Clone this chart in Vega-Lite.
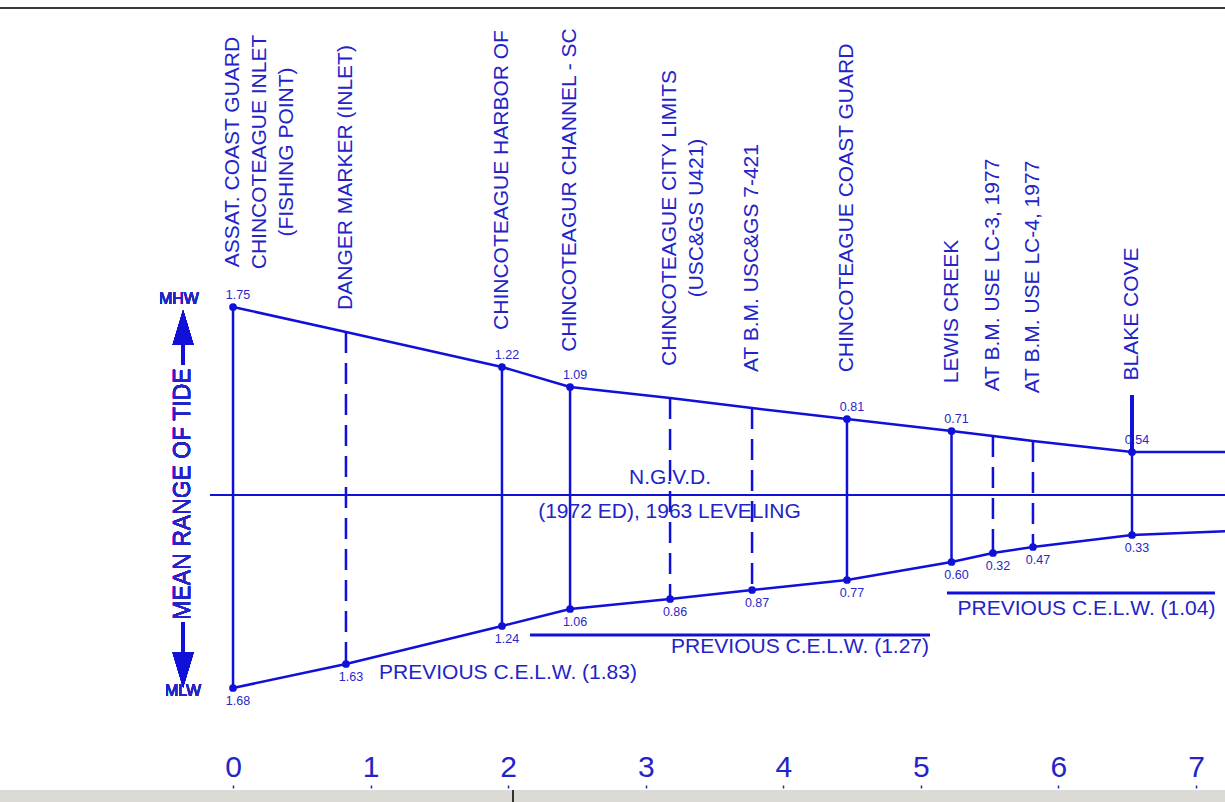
{
  "$schema": "https://vega.github.io/schema/vega-lite/v6.json",
  "width": 1225,
  "height": 802,
  "autosize": {"type": "none"},
  "padding": 0,
  "background": "white",
  "view": {"stroke": null},
  "config": {"text": {"font": "Liberation Sans"}},
  "datasets": {
    "stations": [
      {"name": ["ASSAT. COAST GUARD", "CHINCOTEAGUE INLET", "(FISHING POINT)"], "name_y": 3.43, "mile": 0, "hw": 1.88, "lw": -1.93, "hw_label": "1.75", "lw_label": "1.68", "kind": "solid"},
      {"name": ["DANGER MARKER (INLET)"], "name_y": 3.175, "mile": 0.821, "hw": 1.63, "lw": -1.69, "hw_label": null, "lw_label": "1.63", "kind": "dashed"},
      {"name": ["CHINCOTEAGUE HARBOR OF"], "name_y": 3.15, "mile": 1.955, "hw": 1.28, "lw": -1.31, "hw_label": "1.22", "lw_label": "1.24", "kind": "solid"},
      {"name": ["CHINCOTEAGUR CHANNEL - SC"], "name_y": 3.05, "mile": 2.45, "hw": 1.08, "lw": -1.14, "hw_label": "1.09", "lw_label": "1.06", "kind": "solid"},
      {"name": ["CHINCOTEAGUE CITY LIMITS", "(USC&GS U421)"], "name_y": 2.77, "mile": 3.177, "hw": 0.97, "lw": -1.04, "hw_label": null, "lw_label": "0.86", "kind": "dashed"},
      {"name": ["AT B.M. USC&GS 7-421"], "name_y": 2.37, "mile": 3.773, "hw": 0.87, "lw": -0.95, "hw_label": null, "lw_label": "0.87", "kind": "dashed"},
      {"name": ["CHINCOTEAGUE COAST GUARD"], "name_y": 2.87, "mile": 4.463, "hw": 0.76, "lw": -0.85, "hw_label": "0.81", "lw_label": "0.77", "kind": "solid"},
      {"name": ["LEWIS CREEK"], "name_y": 1.835, "mile": 5.223, "hw": 0.64, "lw": -0.67, "hw_label": "0.71", "lw_label": "0.60", "kind": "solid"},
      {"name": ["AT B.M. USE LC-3, 1977"], "name_y": 2.2, "mile": 5.524, "hw": 0.59, "lw": -0.58, "hw_label": null, "lw_label": "0.32", "kind": "dashed"},
      {"name": ["AT B.M. USE LC-4, 1977"], "name_y": 2.18, "mile": 5.815, "hw": 0.54, "lw": -0.52, "hw_label": null, "lw_label": "0.47", "kind": "dashed"},
      {"name": ["BLAKE COVE"], "name_y": 1.81, "mile": 6.535, "hw": 0.43, "lw": -0.4, "hw_label": "0.54", "lw_label": "0.33", "kind": "solid"},
      {"name": null, "name_y": null, "mile": 7.25, "hw": 0.43, "lw": -0.36, "hw_label": null, "lw_label": null, "kind": "edge"}
    ],
    "notes": [
      {"text": "N.G.V.D.", "mile": 3.177, "y": 0.17},
      {"text": "(1972 ED), 1963 LEVELING", "mile": 3.173, "y": -0.17},
      {"text": "PREVIOUS C.E.L.W. (1.83)", "mile": 1.999, "y": -1.78},
      {"text": "PREVIOUS C.E.L.W. (1.27)", "mile": 4.122, "y": -1.52},
      {"text": "PREVIOUS C.E.L.W. (1.04)", "mile": 6.204, "y": -1.14}
    ],
    "bars": [
      {"from": 2.159, "to": 5.067, "y": -1.4},
      {"from": 5.19, "to": 7.138, "y": -0.98}
    ]
  },
  "data": {"name": "stations"},
  "layer": [
    {
      "mark": {"type": "rect", "color": "#dcdad5"},
      "encoding": {
        "x": {"datum": -1.8, "type": "quantitative", "scale": {"domain": [-1.694, 7.211], "nice": false, "zero": false},
          "axis": {"orient": "top", "offset": -788, "values": [0, 1, 2, 3, 4, 5, 6, 7], "format": "d", "domain": false, "grid": false, "ticks": true, "tickSize": 3, "tickWidth": 1.5, "tickColor": "#2323c8", "labelFont": "Liberation Sans Narrow, Liberation Sans", "labelFontSize": 30, "labelColor": "#2323c8", "labelPadding": 3, "labelFlush": false, "title": null}},
        "x2": {"datum": 7.4},
        "y": {"datum": -2.95, "type": "quantitative", "scale": {"domain": [-3.07, 4.95], "nice": false, "zero": false}, "axis": null},
        "y2": {"datum": -3.2}
      }
    },
    {
      "mark": {"type": "rule", "color": "#333333", "strokeWidth": 1.5},
      "encoding": {"x": {"datum": 2.036, "type": "quantitative"}, "y": {"datum": -2.95, "type": "quantitative"}, "y2": {"datum": -3.2}}
    },
    {
      "mark": {"type": "rule", "color": "#3a3a3a", "strokeWidth": 2},
      "encoding": {"x": {"datum": -1.8, "type": "quantitative"}, "x2": {"datum": 7.4}, "y": {"datum": 4.87, "type": "quantitative"}}
    },
    {
      "mark": {"type": "rule", "color": "#1010d8", "strokeWidth": 1.5},
      "encoding": {"x": {"datum": -0.167, "type": "quantitative"}, "x2": {"datum": 7.4}, "y": {"datum": 0, "type": "quantitative"}}
    },
    {
      "transform": [{"filter": "datum.kind === 'solid'"}],
      "mark": {"type": "rule", "color": "#1010d8", "strokeWidth": 2.5},
      "encoding": {"x": {"field": "mile", "type": "quantitative"}, "y": {"field": "hw", "type": "quantitative"}, "y2": {"field": "lw"}}
    },
    {
      "transform": [{"filter": "datum.kind === 'dashed'"}],
      "mark": {"type": "rule", "color": "#1010d8", "strokeWidth": 2.5, "strokeDash": [21, 10]},
      "encoding": {"x": {"field": "mile", "type": "quantitative"}, "y": {"field": "hw", "type": "quantitative"}, "y2": {"field": "lw"}}
    },
    {
      "mark": {"type": "rule", "color": "#1010d8", "strokeWidth": 2.5},
      "encoding": {"x": {"datum": 6.535, "type": "quantitative"}, "y": {"datum": 1.0, "type": "quantitative"}, "y2": {"datum": 0.43}}
    },
    {
      "mark": {"type": "line", "color": "#1010d8", "strokeWidth": 2.5},
      "encoding": {"x": {"field": "mile", "type": "quantitative"}, "y": {"field": "hw", "type": "quantitative"}}
    },
    {
      "mark": {"type": "line", "color": "#1010d8", "strokeWidth": 2.5},
      "encoding": {"x": {"field": "mile", "type": "quantitative"}, "y": {"field": "lw", "type": "quantitative"}}
    },
    {
      "transform": [{"filter": "datum.kind === 'solid'"}],
      "mark": {"type": "point", "filled": true, "color": "#1010d8", "size": 60, "opacity": 1},
      "encoding": {"x": {"field": "mile", "type": "quantitative"}, "y": {"field": "hw", "type": "quantitative"}}
    },
    {
      "transform": [{"filter": "datum.kind !== 'edge'"}],
      "mark": {"type": "point", "filled": true, "color": "#1010d8", "size": 60, "opacity": 1},
      "encoding": {"x": {"field": "mile", "type": "quantitative"}, "y": {"field": "lw", "type": "quantitative"}}
    },
    {
      "transform": [{"filter": "datum.hw_label != null"}],
      "mark": {"type": "text", "color": "#2828c8", "fontSize": 12.5, "dx": 5, "dy": -12, "align": "center", "baseline": "middle"},
      "encoding": {"x": {"field": "mile", "type": "quantitative"}, "y": {"field": "hw", "type": "quantitative"}, "text": {"field": "hw_label"}}
    },
    {
      "transform": [{"filter": "datum.lw_label != null"}],
      "mark": {"type": "text", "color": "#2828c8", "fontSize": 12.5, "dx": 5, "dy": 13, "align": "center", "baseline": "middle"},
      "encoding": {"x": {"field": "mile", "type": "quantitative"}, "y": {"field": "lw", "type": "quantitative"}, "text": {"field": "lw_label"}}
    },
    {
      "transform": [{"filter": "datum.name != null"}],
      "mark": {"type": "text", "color": "#2323c8", "fontSize": 21, "angle": 270, "align": "center", "baseline": "middle", "lineHeight": 27},
      "encoding": {"x": {"field": "mile", "type": "quantitative"}, "y": {"field": "name_y", "type": "quantitative"}, "text": {"field": "name"}}
    },
    {
      "data": {"name": "notes"},
      "mark": {"type": "text", "color": "#2323c8", "fontSize": 21, "align": "center", "baseline": "middle"},
      "encoding": {"x": {"field": "mile", "type": "quantitative"}, "y": {"field": "y", "type": "quantitative"}, "text": {"field": "text"}}
    },
    {
      "data": {"name": "bars"},
      "mark": {"type": "rule", "color": "#1010d8", "strokeWidth": 3},
      "encoding": {"x": {"field": "from", "type": "quantitative"}, "x2": {"field": "to"}, "y": {"field": "y", "type": "quantitative"}}
    },
    {
      "mark": {"type": "text", "color": "#2323c8", "fontSize": 16, "align": "center", "baseline": "middle", "text": "MHW"},
      "encoding": {"x": {"datum": -0.393, "type": "quantitative"}, "y": {"datum": 1.96, "type": "quantitative"}}
    },
    {
      "mark": {"type": "text", "color": "#2323c8", "fontSize": 16, "align": "center", "baseline": "middle", "text": "MLW"},
      "encoding": {"x": {"datum": -0.363, "type": "quantitative"}, "y": {"datum": -1.96, "type": "quantitative"}}
    },
    {
      "mark": {"type": "text", "color": "#2323c8", "fontSize": 23, "angle": 270, "align": "center", "baseline": "middle", "text": "MEAN RANGE OF TIDE"},
      "encoding": {"x": {"datum": -0.363, "type": "quantitative"}, "y": {"datum": 0.01, "type": "quantitative"}}
    },
    {
      "mark": {"type": "rule", "color": "#1010d8", "strokeWidth": 3},
      "encoding": {"x": {"datum": -0.363, "type": "quantitative"}, "y": {"datum": 1.52, "type": "quantitative"}, "y2": {"datum": 1.3}}
    },
    {
      "mark": {"type": "rule", "color": "#1010d8", "strokeWidth": 3},
      "encoding": {"x": {"datum": -0.363, "type": "quantitative"}, "y": {"datum": -1.27, "type": "quantitative"}, "y2": {"datum": -1.58}}
    },
    {
      "mark": {"type": "point", "filled": true, "color": "#1010d8", "opacity": 1, "size": 1225, "shape": "M-0.6,1L0.6,1L0,-1Z"},
      "encoding": {"x": {"datum": -0.363, "type": "quantitative"}, "y": {"datum": 1.675, "type": "quantitative"}}
    },
    {
      "mark": {"type": "point", "filled": true, "color": "#1010d8", "opacity": 1, "size": 1225, "shape": "M-0.6,-1L0.6,-1L0,1Z"},
      "encoding": {"x": {"datum": -0.363, "type": "quantitative"}, "y": {"datum": -1.75, "type": "quantitative"}}
    }
  ]
}
